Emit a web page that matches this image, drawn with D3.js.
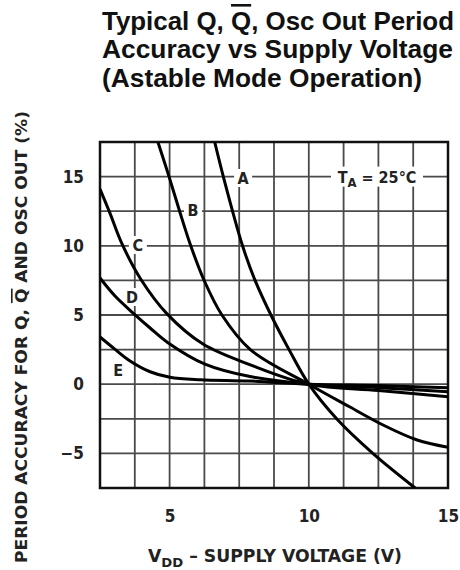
<!DOCTYPE html>
<html>
<head>
<meta charset="utf-8">
<script src="https://cdn.jsdelivr.net/npm/d3@7"></script>
<style>
  body { margin: 0; background: #fff; }
  svg { display: block; }
</style>
</head>
<body>
<svg id="chart" width="460" height="570"></svg>
<script>
"use strict";
(function() {
  // Curves: [supply voltage (V), period accuracy (%)]
  const curveA = [[6.62, 17.5], [6.93, 15], [7.62, 10], [8.07, 7.5], [8.64, 5], [9.29, 2.5], [10, 0],
                  [11.0, -2.5], [12.3, -5], [13.82, -7.5]];
  const curveB = [[4.58, 17.5], [4.98, 15], [5.36, 12.5], [5.76, 10], [6.24, 7.5], [6.88, 5], [7.9, 2.5],
                  [10, 0], [11.48, -1.65], [12.67, -2.95], [13.89, -4.03], [15, -4.55]];
  const curveC = [[2.5, 14.1], [2.85, 12.4], [3.3, 10.1], [3.96, 7.6], [4.9, 5.1], [6.2, 2.9],
                  [7.9, 1.4], [10, 0], [12.5, -0.45], [15, -0.9]];
  const curveD = [[2.5, 7.67], [3.04, 6.37], [3.69, 5.14], [4.3, 4.06], [4.94, 3.0], [6.27, 1.45],
                  [7.89, 0.55], [10, 0], [12.5, -0.25], [15, -0.55]];
  const curveE = [[2.5, 3.41], [3.04, 2.52], [3.58, 1.68], [4.3, 0.9], [5.01, 0.5], [6.1, 0.32],
                  [7.89, 0.23], [10, 0], [12.5, -0.1], [15, -0.25]];

  const curveNames = ["A", "B", "C", "D", "E"];
  const curves = [curveA, curveB, curveC, curveD, curveE];
  // where the letter of each curve sits, in data units
  const labelAt = [[7.64, 14.9], [5.84, 12.6], [3.86, 10.06], [3.65, 6.3], [3.15, 1.0]];

  const xTicks = [5, 10, 15];
  const yTicks = [15, 10, 5, 0, -5];
  const xGrid = [2.5, 3.75, 5, 6.25, 7.5, 8.75, 10, 11.25, 12.5, 13.75, 15];
  const yGrid = [-7.5, -5, -2.5, 0, 2.5, 5, 7.5, 10, 12.5, 15, 17.5];

  const svg = d3.select("#chart");
  const cond = "'DejaVu Sans Condensed', 'DejaVu Sans', sans-serif";

  const left = 100, right = 448, top = 142, bottom = 488;
  const x = d3.scaleLinear().domain([2.5, 15]).range([left, right]);
  const y = d3.scaleLinear().domain([-7.5, 17.5]).range([bottom, top]);

  // Title
  const title = svg.append("g")
    .attr("font-family", "'Liberation Sans', Arial, sans-serif")
    .attr("font-weight", "bold")
    .attr("font-size", 26)
    .attr("fill", "#111");
  const t1 = title.append("text").attr("x", 102).attr("y", 30)
    .attr("textLength", 352).attr("lengthAdjust", "spacingAndGlyphs");
  t1.append("tspan").text("Typical Q, ");
  t1.append("tspan").style("text-decoration", "overline").text("Q");
  t1.append("tspan").text(", Osc Out Period");
  title.append("text").attr("x", 102).attr("y", 58)
    .attr("textLength", 351).attr("lengthAdjust", "spacingAndGlyphs")
    .text("Accuracy vs Supply Voltage");
  title.append("text").attr("x", 102).attr("y", 87)
    .attr("textLength", 320).attr("lengthAdjust", "spacingAndGlyphs")
    .text("(Astable Mode Operation)");

  // Grid
  const grid = svg.append("g").attr("stroke", "#4a4a4a").attr("stroke-width", 1.8);
  grid.selectAll("line.v").data(xGrid).enter().append("line")
    .attr("x1", d => x(d)).attr("x2", d => x(d))
    .attr("y1", top).attr("y2", bottom);
  grid.selectAll("line.h").data(yGrid).enter().append("line")
    .attr("x1", left).attr("x2", right)
    .attr("y1", d => y(d)).attr("y2", d => y(d));

  // frame
  svg.append("rect")
    .attr("x", left).attr("y", top)
    .attr("width", right - left).attr("height", bottom - top)
    .attr("fill", "none").attr("stroke", "#111").attr("stroke-width", 2.5);

  // curve letters with white patches that cut the grid
  const lab = svg.append("g")
    .attr("font-family", cond).attr("font-weight", "bold")
    .attr("font-size", 16).attr("fill", "#222");
  curveNames.forEach((n, i) => {
    const px = x(labelAt[i][0]), py = y(labelAt[i][1]);
    lab.append("rect").attr("x", px - 9).attr("y", py - 9)
      .attr("width", 18).attr("height", 18).attr("fill", "#fff");
    lab.append("text").attr("x", px).attr("y", py + 6)
      .attr("text-anchor", "middle").text(n);
  });

  // T_A = 25°C
  const tx = x(12.45), ty = y(15);
  lab.append("rect").attr("x", tx - 46).attr("y", ty - 10)
    .attr("width", 92).attr("height", 20).attr("fill", "#fff");
  const ta = lab.append("text").attr("x", tx).attr("y", ty + 6).attr("text-anchor", "middle");
  ta.append("tspan").text("T");
  ta.append("tspan").attr("font-size", 13).attr("dy", 4).text("A");
  ta.append("tspan").attr("dy", -4).text(" = 25\u00B0C");

  // Curves
  const line = d3.line()
    .x(d => x(d[0])).y(d => y(d[1]))
    .curve(d3.curveCatmullRom.alpha(0.5));
  svg.append("clipPath").attr("id", "clip").append("rect")
    .attr("x", left).attr("y", top).attr("width", right - left).attr("height", bottom - top);
  svg.append("g").attr("clip-path", "url(#clip)")
    .selectAll("path").data(curves).enter().append("path")
    .attr("d", line)
    .attr("fill", "none").attr("stroke", "#000").attr("stroke-width", 3);

  // Axes (labels only)
  const xAxis = svg.append("g").attr("transform", "translate(0," + (bottom + 34) + ")")
    .call(d3.axisBottom(x).tickValues(xTicks).tickSize(0).tickPadding(0));
  const yAxis = svg.append("g").attr("transform", "translate(" + (left - 16) + ",0)")
    .call(d3.axisLeft(y).tickValues(yTicks).tickSize(0).tickPadding(0)
      .tickFormat(d => d < 0 ? "\u2212" + Math.abs(d) : d));
  [xAxis, yAxis].forEach(a => {
    a.select(".domain").remove();
    a.selectAll("text").attr("font-family", cond).attr("font-weight", "bold")
      .attr("font-size", 17).attr("fill", "#222");
  });
  xAxis.selectAll("text").attr("dy", 0);

  // Axis titles
  const xt = svg.append("text").attr("x", 148).attr("y", 562)
    .attr("textLength", 254).attr("lengthAdjust", "spacingAndGlyphs")
    .attr("font-family", cond).attr("font-weight", "bold").attr("font-size", 17).attr("fill", "#222");
  xt.append("tspan").text("V");
  xt.append("tspan").attr("font-size", 13).attr("dy", 5).text("DD");
  xt.append("tspan").attr("dy", -5).text(" \u2013 SUPPLY VOLTAGE (V)");

  const yt = svg.append("text")
    .attr("transform", "translate(27,337) rotate(-90)")
    .attr("text-anchor", "middle")
    .attr("textLength", 452).attr("lengthAdjust", "spacingAndGlyphs")
    .attr("font-family", cond).attr("font-weight", "bold").attr("font-size", 16).attr("fill", "#222");
  yt.append("tspan").text("PERIOD ACCURACY FOR Q, ");
  yt.append("tspan").style("text-decoration", "overline").text("Q");
  yt.append("tspan").text(" AND OSC OUT (%)");
})();
</script>
</body>
</html>
